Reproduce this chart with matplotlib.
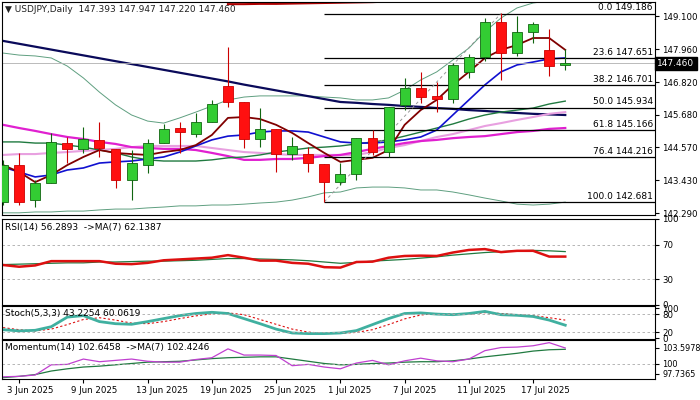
import matplotlib
matplotlib.use("Agg")
import matplotlib.pyplot as plt
import numpy as np

dates = ["2 Jun","3 Jun","4 Jun","5 Jun","6 Jun","9 Jun","10 Jun","11 Jun","12 Jun","13 Jun","16 Jun","17 Jun",
         "18 Jun","19 Jun","20 Jun","23 Jun","24 Jun","25 Jun","26 Jun","27 Jun","30 Jun","1 Jul","2 Jul","3 Jul",
         "4 Jul","7 Jul","8 Jul","9 Jul","10 Jul","11 Jul","14 Jul","15 Jul","16 Jul","17 Jul","18 Jul","21 Jul"]
opens  = [142.674,143.953,142.743,143.331,144.712,144.505,144.816,144.505,143.434,143.953,144.712,145.231,
          145.023,145.438,146.682,146.129,144.851,145.196,144.333,144.333,143.987,143.365,143.642,144.885,
          144.402,146.025,146.613,146.336,146.233,147.165,147.684,148.893,147.822,148.548,147.926,147.393]
highs  = [144.125,144.367,143.434,145.058,144.920,145.265,145.438,144.505,144.471,144.851,145.369,145.438,
          145.749,146.198,148.029,146.129,145.922,145.196,144.920,144.574,143.987,144.022,144.885,145.162,
          145.956,146.958,147.165,146.820,147.476,147.788,149.031,149.204,149.100,148.893,148.651,147.947]
lows   = [142.570,142.570,142.501,143.331,144.022,144.367,144.229,143.158,142.743,143.676,144.712,144.367,
          144.920,145.438,145.956,144.540,144.574,143.711,144.125,143.711,142.674,143.262,143.434,144.298,
          144.229,145.853,146.095,145.784,146.095,146.958,147.546,146.889,147.718,148.167,147.027,147.220]
closes = [143.953,142.674,143.331,144.747,144.505,144.851,144.540,143.434,144.022,144.712,145.196,145.093,
          145.438,146.060,146.129,144.851,145.196,144.333,144.609,144.022,143.365,143.642,144.885,144.402,
          145.956,146.613,146.302,146.233,147.407,147.684,148.893,147.822,148.548,148.824,147.373,147.460]

ma_navy = [148.24,148.14,148.04,147.94,147.84,147.74,147.64,147.54,147.44,147.34,147.24,147.14,147.04,146.94,
           146.84,146.73,146.63,146.53,146.43,146.33,146.23,146.13,146.10,146.06,146.03,145.99,145.96,145.92,
           145.89,145.85,145.82,145.78,145.75,145.72,145.70,145.68]
ma_brown = [143.95,143.71,143.36,143.61,143.95,144.23,144.47,144.37,144.33,144.30,144.40,144.47,144.64,144.99,
            145.58,145.61,145.54,145.34,145.06,144.71,144.37,144.06,144.13,144.20,144.47,145.34,145.85,146.20,
            146.72,147.17,147.65,147.93,148.10,148.34,148.34,147.93]
ma_blue = [143.88,143.71,143.54,143.61,143.78,143.85,144.02,144.06,144.09,144.16,144.23,144.40,144.61,144.82,
           144.95,144.99,145.09,145.13,145.13,145.09,144.92,144.75,144.71,144.71,144.75,144.82,144.92,145.16,
           145.68,146.20,146.72,147.17,147.41,147.51,147.62,147.65]
ma_green = [144.75,144.75,144.71,144.71,144.64,144.57,144.47,144.37,144.23,144.13,144.09,144.09,144.09,144.13,
            144.20,144.23,144.30,144.40,144.47,144.54,144.57,144.61,144.68,144.75,144.82,144.95,145.09,145.23,
            145.37,145.54,145.68,145.78,145.85,145.92,146.06,146.16]
ma_magenta = [145.34,145.23,145.13,145.02,144.92,144.85,144.75,144.68,144.57,144.54,144.51,144.51,144.47,144.37,
              144.26,144.13,144.13,144.16,144.16,144.20,144.26,144.30,144.40,144.51,144.61,144.71,144.78,144.82,
              144.88,144.92,144.95,145.02,145.09,145.13,145.20,145.23]
ma_pink = [144.30,144.33,144.33,144.37,144.40,144.44,144.47,144.51,144.57,144.61,144.61,144.61,144.61,144.54,
           144.47,144.40,144.37,144.33,144.30,144.30,144.30,144.30,144.30,144.40,144.54,144.64,144.78,144.92,
           145.02,145.16,145.30,145.40,145.51,145.61,145.72,145.78]
bb_upper = [147.82,147.75,147.72,147.65,147.37,146.96,146.47,146.03,145.68,145.47,145.40,145.58,145.78,145.99,
            146.20,146.30,146.34,146.34,146.34,146.34,146.30,146.27,146.20,146.20,146.27,146.54,146.89,147.17,
            147.58,147.99,148.56,149.03,149.38,149.55,149.62,149.65]
bb_lower = [142.30,142.30,142.33,142.33,142.36,142.36,142.40,142.43,142.43,142.47,142.50,142.54,142.54,142.57,
            142.57,142.60,142.64,142.67,142.74,142.85,142.99,143.02,143.16,143.19,143.19,143.16,143.09,143.09,
            143.02,142.92,142.81,142.71,142.60,142.57,142.60,142.67]
ma_top = [np.nan]*14 + [149.51,149.51,149.52,149.52,149.53,149.54,149.55,149.56,149.57,149.58,149.60,149.62,
                        149.64,149.66,149.68,149.70,149.72,149.74,149.76,149.78,149.80,149.82]

fib_pct = ["0.0","23.6","38.2","50.0","61.8","76.4","100.0"]
fib_lvl = [149.186,147.651,146.701,145.934,145.166,144.216,142.681]
price_ticks = [149.100,147.960,146.820,145.680,144.570,143.430,142.290]

rsi = [46.5,44.5,46,51,51,51,51,48,47.5,49,52,53,54,55,58,55,51.6,51.6,49,48,44,43.5,50,50.4,55,57,57.4,57,61,64,65,61.5,63,63,56.3,56.3]
rsi_ma = [47,47.5,48,48.5,49,49,50,50,50.5,51,51,51.5,52,53,54,54,53.5,53,52.5,51.5,50,48.5,49.5,51,52,53,54.5,56,58,59.5,61,62,63,63.5,63,62.1]
stoch_k = [28,24,26,38,70,75,55,48,46,55,65,75,82,86,82,65,48,30,17,15,15,17,25,45,65,82,84,80,78,82,89,78,76,72,60,43]
stoch_d = [35,28,24,30,45,62,68,60,50,48,55,65,74,81,84,78,62,46,30,20,16,16,19,28,45,64,77,82,80,80,85,82,78,75,68,60]
mom = [97.1,97.2,97.5,99.8,99.9,101.1,100.5,100.8,101.1,100.6,100.4,100.4,101.0,101.4,103.4,102.0,102.0,101.9,99.6,99.9,99.3,98.9,100.2,100.8,99.8,100.7,101.3,100.7,100.5,101.1,103.0,103.7,103.8,104.1,104.8,103.6]
mom_ma = [96.9,97.2,97.6,98.4,98.9,99.3,99.5,99.8,100.1,100.4,100.5,100.6,100.9,101.2,101.4,101.5,101.6,101.6,101.1,100.6,100.1,99.8,99.9,100.1,100.2,100.4,100.5,100.5,100.7,101.1,101.6,102.0,102.4,102.9,103.2,103.3]

date_labels = ["3 Jun 2025","9 Jun 2025","13 Jun 2025","19 Jun 2025","25 Jun 2025","1 Jul 2025","7 Jul 2025","11 Jul 2025","17 Jul 2025"]
date_keys = ["3 Jun","9 Jun","13 Jun","19 Jun","25 Jun","1 Jul","7 Jul","11 Jul","17 Jul"]

plt.rcParams['font.family'] = 'DejaVu Sans'
plt.rcParams['font.size'] = 6
FS = 6.2
fig = plt.figure(figsize=(7, 4), dpi=100)
W = 0.933
XL = (-0.06, 40.6)
ax = fig.add_axes([0.003, 0.4625, W, 0.5325])
ar = fig.add_axes([0.003, 0.2375, W, 0.215], sharex=ax)
ast = fig.add_axes([0.003, 0.1525, W, 0.0825], sharex=ax)
am = fig.add_axes([0.003, 0.0525, W, 0.0975], sharex=ax)
x = np.arange(len(dates))

for a in (ax, ar, ast, am):
    a.yaxis.tick_right()
    a.tick_params(axis='y', length=3, pad=2, labelsize=FS)
    a.tick_params(axis='x', length=0)
    for s in a.spines.values():
        s.set_linewidth(0.8)
a.set_xlim(*XL)

# main
ax.plot(x, bb_upper, color='#5f9f80', lw=0.7)
ax.plot(x, bb_lower, color='#5f9f80', lw=0.7)
ax.plot(x, ma_top, color='#b00000', lw=1.5)
ax.plot(x, ma_navy, color='#0a0a5a', lw=1.6)
ax.plot(x, ma_pink, color='#e8a0e0', lw=1.5)
ax.plot(x, ma_magenta, color='#e020d0', lw=1.6)
ax.plot(x, ma_green, color='#207a40', lw=1.0)
ax.plot(x, ma_blue, color='#1010d0', lw=1.2)
ax.plot(x, ma_brown, color='#800000', lw=1.3)
for i in x:
    up = closes[i] >= opens[i]
    fc = '#33cc33' if up else '#ff1010'
    ec = '#116611' if up else '#cc0000'
    ax.vlines(i, lows[i], highs[i], color=ec, lw=0.8, zorder=3)
    lo, hi = min(opens[i], closes[i]), max(opens[i], closes[i])
    ax.bar(i, max(hi - lo, 0.03), bottom=lo, width=0.62, color=fc, edgecolor=ec, lw=0.6, zorder=4)
ax.axhline(closes[-1], color='#b0b0b0', lw=0.6)
for p, l in zip(fib_pct, fib_lvl):
    ax.hlines(l, 20, XL[1], color='black', lw=0.9)
    ax.text(40.45, l + 0.04, f"{p} {l:.3f}", ha='right', va='bottom', fontsize=FS + 0.3)
ax.plot([20, 31], [fib_lvl[-1], fib_lvl[0]], color='#999999', lw=0.7, ls=(0, (3, 3)))
ax.set_ylim(142.225, 149.584)
ax.set_yticks(price_ticks)
ax.set_yticklabels([f"{t:.3f}" for t in price_ticks])
ax.text(1.003, (closes[-1] - 142.225) / (149.584 - 142.225), f"{closes[-1]:.3f}", transform=ax.transAxes,
        color='white', fontsize=FS + 0.3, va='center', ha='left', bbox=dict(boxstyle='square,pad=0.25', fc='black', ec='black'))
ax.text(0.005, 0.985, "▼ USDJPY,Daily  147.393 147.947 147.220 147.460", transform=ax.transAxes,
        va='top', ha='left', fontsize=FS + 0.3, color='#222222')

# RSI
ar.plot(x, rsi_ma, color='#207a40', lw=0.9)
ar.plot(x, rsi, color='#dd1010', lw=1.8)
for v in (70, 30):
    ar.axhline(v, color='#aaaaaa', lw=0.6, ls=(0, (3, 3)))
ar.set_ylim(0, 100)
ar.set_yticks([100, 70, 30, 0])
ar.text(0.005, 0.95, "RSI(14) 56.2893  ->MA(7) 62.1387", transform=ar.transAxes, va='top', fontsize=FS + 0.3)

# Stoch
ast.plot(x, stoch_d, color='#dd1010', lw=0.8, ls=(0, (2, 2)))
ast.plot(x, stoch_k, color='#40b0a0', lw=2.0)
for v in (80, 20):
    ast.axhline(v, color='#aaaaaa', lw=0.6, ls=(0, (3, 3)))
ast.set_ylim(-3, 107)
ast.set_yticks([100, 80, 20, 0])
ast.set_yticklabels(["100", "80", "20", "0"])
ast.text(0.005, 0.92, "Stoch(5,3,3) 43.2254 60.0619", transform=ast.transAxes, va='top', fontsize=FS + 0.3)

# Momentum
am.plot(x, mom_ma, color='#207a40', lw=0.9)
am.plot(x, mom, color='#c040d0', lw=0.9)
am.axhline(100, color='#aaaaaa', lw=0.6, ls=(0, (3, 3)))
am.set_ylim(96.6, 105.4)
am.set_yticks([103.5978, 100, 97.7365])
am.set_yticklabels(["103.5978", "100", "97.7365"])
am.tick_params(axis='y', labelsize=FS - 0.3)
am.text(0.005, 0.92, "Momentum(14) 102.6458  ->MA(7) 102.4246", transform=am.transAxes, va='top', fontsize=FS + 0.3)

for a in (ax, ar, ast):
    plt.setp(a.get_xticklabels(), visible=False)
am.set_xticks([dates.index(k) for k in date_keys])
am.set_xticklabels(date_labels, fontsize=FS)
am.tick_params(axis='x', length=3, pad=2)
for t in am.get_xticklabels():
    t.set_horizontalalignment('left')
    t.set_x(t.get_position()[0])
import matplotlib.transforms as mtrans
off = mtrans.ScaledTranslation(-12 / 100, 0, fig.dpi_scale_trans)
for t in am.get_xticklabels():
    t.set_transform(t.get_transform() + off)

fig.savefig("out.png", dpi=100)
